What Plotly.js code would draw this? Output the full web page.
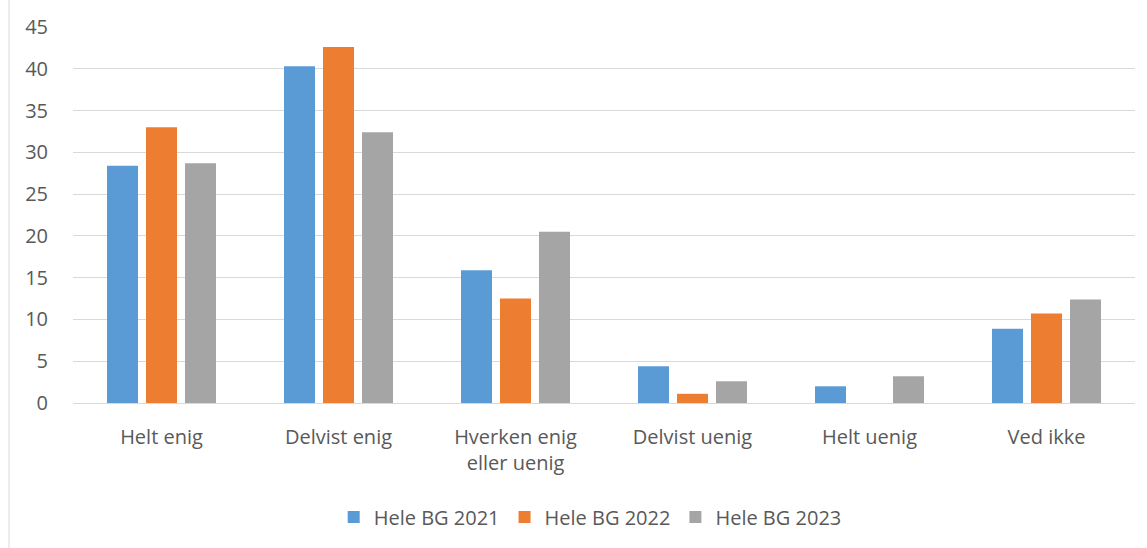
<!DOCTYPE html>
<html>
<head>
<meta charset="utf-8">
<script src="https://cdn.plot.ly/plotly-3.0.1.min.js"></script>
<style>
  html, body { margin: 0; padding: 0; background: #ffffff; }
  #chart { width: 1147px; height: 548px; }
</style>
</head>
<body>
<div id="chart"></div>
<script>
const categories = ["Helt enig", "Delvist enig", "Hverken enig<br>eller uenig", "Delvist uenig", "Helt uenig", "Ved ikke"];
const seriesNames = ["Hele BG 2021", "Hele BG 2022", "Hele BG 2023"];
const values2021 = [28.4, 40.3, 15.9, 4.4, 2.0, 8.9];
const values2022 = [33.0, 42.6, 12.5, 1.1, 0, 10.7];
const values2023 = [28.7, 32.4, 20.5, 2.6, 3.2, 12.4];
const yTicks = [0, 5, 10, 15, 20, 25, 30, 35, 40, 45];

const colors = ["#5b9bd5", "#ed7d31", "#a5a5a5"];
const allValues = [values2021, values2022, values2023];

const traces = allValues.map((vals, i) => ({
  type: "bar",
  name: seriesNames[i],
  x: categories,
  y: vals,
  marker: { color: colors[i] },
  hoverinfo: "x+y+name"
}));

const fontFamily = "'Open Sans', 'Noto Sans', 'DejaVu Sans', sans-serif";

const layout = {
  width: 1147,
  height: 548,
  paper_bgcolor: "#ffffff",
  plot_bgcolor: "#ffffff",
  margin: { l: 73, r: 12, t: 27, b: 145 },
  barmode: "group",
  bargap: 0.339,
  bargroupgap: 0.205,
  font: { family: fontFamily, size: 20, color: "#595959" },
  showlegend: true,
  legend: {
    orientation: "h",
    x: 0.487,
    xanchor: "center",
    y: -0.303,
    yanchor: "middle",
    font: { family: fontFamily, size: 20, color: "#595959" },
    itemwidth: 30,
    traceorder: "normal"
  },
  xaxis: {
    type: "category",
    showgrid: false,
    showline: false,
    zeroline: false,
    ticks: "outside",
    ticklen: 16,
    tickcolor: "rgba(0,0,0,0)",
    tickfont: { family: fontFamily, size: 20, color: "#595959" },
    fixedrange: true
  },
  yaxis: {
    range: [0, 45],
    tickmode: "array",
    tickvals: yTicks,
    ticktext: yTicks.map(String),
    showgrid: true,
    gridcolor: "#d9d9d9",
    gridwidth: 1,
    zeroline: true,
    zerolinecolor: "#d9d9d9",
    zerolinewidth: 1,
    showline: false,
    ticks: "outside",
    ticklen: 20,
    tickcolor: "rgba(0,0,0,0)",
    tickfont: { family: fontFamily, size: 20, color: "#595959" },
    fixedrange: true
  },
  shapes: [{
    type: "line",
    xref: "paper",
    yref: "paper",
    x0: (9 - 73) / 1062,
    x1: (9 - 73) / 1062,
    y0: -145 / 376,
    y1: 403 / 376 + 0.5,
    line: { color: "#d9d9d9", width: 1 }
  }]
};

Plotly.newPlot("chart", traces, layout, { displayModeBar: false, staticPlot: true });
</script>
</body>
</html>
